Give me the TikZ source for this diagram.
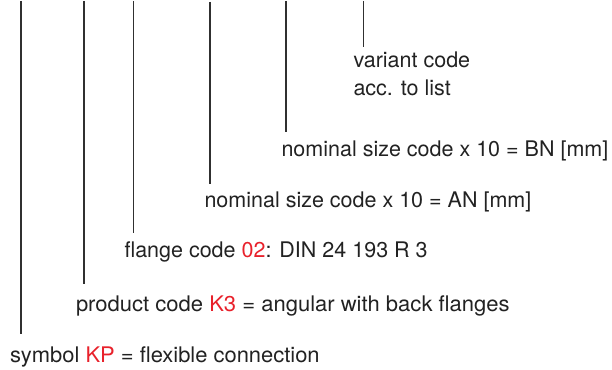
\documentclass[tikz,border=0pt]{standalone}
\usepackage{fontspec}
\usepackage{graphicx}
\setmainfont{TeX Gyre Heros}
\definecolor{txt}{HTML}{222222}
\definecolor{codered}{HTML}{E8212B}
\definecolor{lead}{HTML}{303030}
\begin{document}
\begin{tikzpicture}[x=1pt,y=-1pt,
  lbl/.style={anchor=base west,inner sep=0pt,outer sep=0pt,text=txt,
    font=\fontsize{21.5pt}{28pt}\selectfont},
  leader/.style={draw=lead,line width=1.1pt}]
\useasboundingbox (0,0) rectangle (612,369);
\newcommand{\rd}[1]{\textcolor{codered}{#1}}
% labels
\node[lbl] (t1) at (10,362) {\scalebox{1.02}[1]{symbol \rd{KP} = flexible connection}};
\node[lbl] (t2) at (76,311) {\scalebox{1.024}[1]{product code \rd{K3} = angular with back flanges}};
\node[lbl] (t3) at (124.5,257) {flange code \rd{02}: DIN 24 193 R 3};
\node[lbl] (t4) at (204.5,207) {nominal size code x 10 = AN [mm]};
\node[lbl] (t5) at (281.5,156) {nominal size code x 10 = BN [mm]};
\node[lbl] (t6) at (353.5,67) {variant code};
\node[lbl] (t7) at (353.5,95) {acc. to list};
% leader ends
\coordinate (a1) at (21,1);   \coordinate (b1) at (21,334);
\coordinate (a2) at (84,1);   \coordinate (b2) at (84,284);
\coordinate (a3) at (133.5,1);\coordinate (b3) at (133.5,233);
\coordinate (a4) at (210,2);  \coordinate (b4) at (210,184);
\coordinate (a5) at (286,1);  \coordinate (b5) at (286,132);
\coordinate (a6) at (363.5,1);\coordinate (b6) at (363.5,47);
\foreach \i in {1,...,6} {\draw[leader] (a\i) -- (b\i);}
\end{tikzpicture}
\end{document}
